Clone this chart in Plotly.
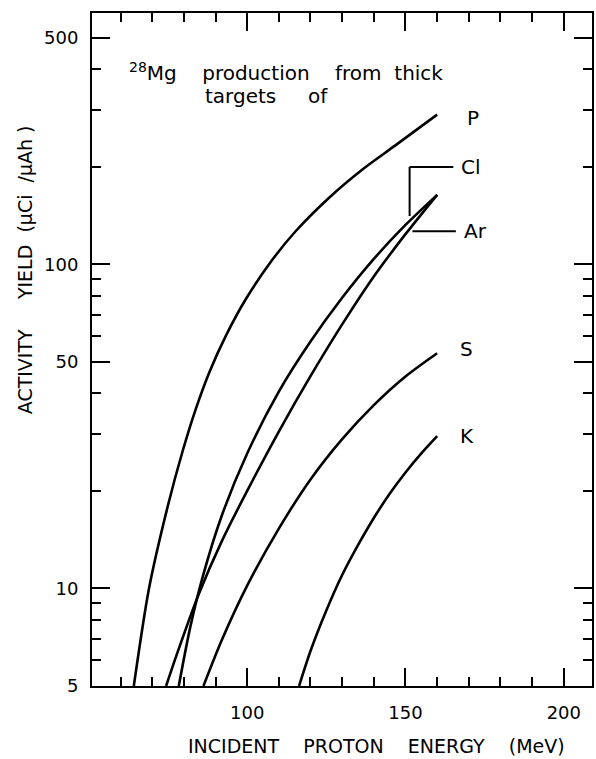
import math
import plotly.graph_objects as go

# ---- data ----
P_x = [64.2, 69.0, 74.9, 79.7, 83.9, 88.1, 93.3, 99.6, 108.0, 115.3, 125.8, 136.3, 146.8, 160.0]
P_y = [5.0, 10.0, 17.9, 26.7, 36.1, 46.6, 60.3, 78.2, 103.5, 126.6, 160.4, 196.0, 233.0, 290.0]

Cl_x = [78.4, 82.0, 86.0, 92.0, 100.0, 110.0, 120.0, 130.0, 140.0, 150.0, 160.0]
Cl_y = [5.0, 7.57, 10.9, 16.8, 26.1, 40.5, 57.8, 78.9, 104.0, 132.4, 164.0]

Ar_x = [74.4, 78.0, 84.7, 92.0, 100.0, 110.0, 120.0, 130.0, 140.0, 150.0, 160.0]
Ar_y = [5.0, 6.35, 9.6, 14.0, 20.0, 30.5, 45.2, 65.3, 91.8, 124.0, 164.0]

S_x = [86.2, 92.0, 100.0, 110.0, 120.0, 130.0, 140.0, 150.0, 160.0]
S_y = [5.0, 6.93, 10.2, 15.3, 21.7, 28.9, 36.8, 45.1, 53.2]

K_x = [116.4, 120.0, 125.0, 130.0, 135.0, 140.0, 145.0, 150.0, 155.0, 160.0]
K_y = [5.0, 6.41, 8.55, 11.0, 13.6, 16.5, 19.6, 22.8, 26.1, 29.5]

series = [("P", P_x, P_y), ("Cl", Cl_x, Cl_y), ("Ar", Ar_x, Ar_y), ("S", S_x, S_y), ("K", K_x, K_y)]

x_major = [100, 150, 200]
x_minor = [60, 70, 80, 90, 110, 120, 130, 140, 160, 170, 180, 190]
y_major = [5, 10, 50, 100, 500]
y_minor = [6, 7, 8, 9, 20, 30, 40, 60, 70, 80, 90, 200, 300, 400]

label_pos = {"P": (171.4, 284), "Cl": (170.8, 200), "Ar": (172.0, 126.5), "S": (169.2, 55), "K": (169.5, 29.6)}

W, H = 596, 759
L, R, T, B = 92, 2, 13, 73
FONT = "DejaVu Sans"
NB = "\u00a0"

def px2paper_x(px):
    return (px - L) / (W - L - R)

def px2paper_y(py):
    return 1 - (py - T) / (H - T - B)

fig = go.Figure()
for name, xs, ys in series:
    fig.add_trace(go.Scatter(x=xs, y=ys, mode="lines", name=name,
                             line=dict(color="black", width=2.6, shape="spline", smoothing=0.8),
                             showlegend=False, hoverinfo="skip"))

annotations = []
for name, (lx, ly) in label_pos.items():
    annotations.append(dict(x=lx, y=math.log10(ly), xref="x", yref="y", text=name,
                            showarrow=False, xanchor="center", yanchor="middle",
                            font=dict(family=FONT, size=20, color="black")))

annotations.append(dict(x=px2paper_x(127), y=px2paper_y(72), xref="paper", yref="paper",
                        text="<sup>28</sup>Mg" + NB * 4 + "production" + NB * 4 + "from" + NB * 2 + "thick",
                        showarrow=False, xanchor="left", yanchor="middle",
                        font=dict(family=FONT, size=20, color="black")))
annotations.append(dict(x=px2paper_x(203), y=px2paper_y(96), xref="paper", yref="paper",
                        text="targets" + NB * 5 + "of",
                        showarrow=False, xanchor="left", yanchor="middle",
                        font=dict(family=FONT, size=20, color="black")))
annotations.append(dict(x=px2paper_x(378), y=px2paper_y(746), xref="paper", yref="paper",
                        text="INCIDENT" + NB * 4 + "PROTON" + NB * 4 + "ENERGY" + NB * 4 + "(MeV)",
                        showarrow=False, xanchor="center", yanchor="middle", borderpad=0,
                        font=dict(family=FONT, size=19, color="black")))
annotations.append(dict(x=px2paper_x(25), y=px2paper_y(270), xref="paper", yref="paper",
                        text="ACTIVITY" + NB * 5 + "YIELD" + NB * 2 + "(\u03bcCi" + NB * 2 + "/\u03bcAh" + NB + ")",
                        textangle=-90,
                        showarrow=False, xanchor="center", yanchor="middle",
                        font=dict(family=FONT, size=19, color="black")))

shapes = [
    dict(type="line", xref="x", yref="y", x0=151.3, x1=165.1, y0=200, y1=200,
         line=dict(color="black", width=2)),
    dict(type="line", xref="x", yref="y", x0=151.3, x1=151.3, y0=200, y1=141,
         line=dict(color="black", width=2)),
    dict(type="line", xref="x", yref="y", x0=152.2, x1=165.9, y0=126.5, y1=126.5,
         line=dict(color="black", width=2)),
]

fig.update_layout(
    width=W, height=H,
    margin=dict(l=L, r=R, t=T, b=B),
    paper_bgcolor="white", plot_bgcolor="white",
    annotations=annotations, shapes=shapes,
    xaxis=dict(range=[51, 208.9], tickmode="array", tickvals=x_major, ticktext=[str(v) for v in x_major],
               ticks="inside", ticklen=18, tickwidth=2, tickcolor="black",
               minor=dict(tickmode="array", tickvals=x_minor, ticks="inside", ticklen=9, tickwidth=2, tickcolor="black"),
               showline=True, linecolor="black", linewidth=2, mirror="allticks",
               showgrid=False, zeroline=False, ticklabelstandoff=9,
               tickfont=dict(family=FONT, size=18, color="black")),
    yaxis=dict(type="log", range=[math.log10(5), 2.776], tickmode="array", tickvals=y_major,
               ticktext=[str(v) for v in y_major],
               ticks="inside", ticklen=18, tickwidth=2, tickcolor="black",
               minor=dict(tickmode="array", tickvals=y_minor, ticks="inside", ticklen=9, tickwidth=2, tickcolor="black"),
               showline=True, linecolor="black", linewidth=2, mirror="allticks",
               showgrid=False, zeroline=False, ticklabelstandoff=8,
               tickfont=dict(family=FONT, size=18, color="black")),
)

fig.write_html("out.html")
